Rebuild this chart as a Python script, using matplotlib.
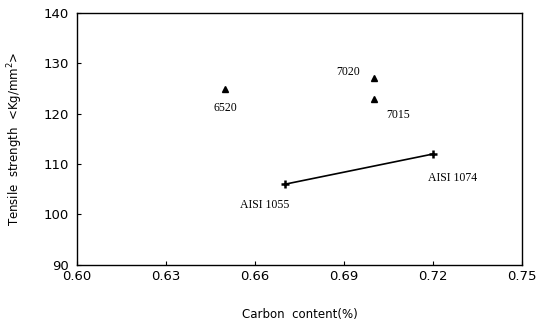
import matplotlib
matplotlib.use('Agg')
import matplotlib.pyplot as plt

# steel grades: triangles (plain) and crosses (AISI, joined by a line)
tri_names = ['6520', '7020', '7015']
tri_carbon = [0.65, 0.70, 0.70]
tri_strength = [125, 127, 123]

aisi_names = ['AISI 1055', 'AISI 1074']
aisi_carbon = [0.67, 0.72]
aisi_strength = [106, 112]

xticks = [0.60, 0.63, 0.66, 0.69, 0.72, 0.75]
yticks = [90, 100, 110, 120, 130, 140]

# label offsets in points (dx, dy, ha)
tri_off = [(0, -14, 'center'), (-10, 5, 'right'), (9, -12, 'left')]
aisi_off = [(-14, -15, 'center'), (14, -17, 'center')]

fig = plt.figure(figsize=(5.39, 3.25), dpi=100)
ax = fig.add_axes([0.143, 0.185, 0.825, 0.775])

ax.plot(tri_carbon, tri_strength, ls='none', marker='^', ms=5, color='black')
ax.plot(aisi_carbon, aisi_strength, color='black', lw=1.2, marker='+',
        ms=6, mew=1.8)

lab_font = dict(family='Liberation Serif', fontsize=8.5)
for n, x, y, (dx, dy, ha) in zip(tri_names, tri_carbon, tri_strength, tri_off):
    ax.annotate(n, (x, y), xytext=(dx, dy), textcoords='offset points',
                ha=ha, va='center', **lab_font)
for n, x, y, (dx, dy, ha) in zip(aisi_names, aisi_carbon, aisi_strength, aisi_off):
    ax.annotate(n, (x, y), xytext=(dx, dy), textcoords='offset points',
                ha=ha, va='center', **lab_font)

ax.set_xlim(0.60, 0.75)
ax.set_ylim(90, 140)
ax.set_xticks(xticks)
ax.set_xticklabels([f'{v:.2f}' for v in xticks])
ax.set_yticks(yticks)
ax.tick_params(direction='in', length=3, width=0.8, labelsize=9.5)
ax.tick_params(axis='x', pad=4)
ax.tick_params(axis='y', pad=6)
for s in ax.spines.values():
    s.set_linewidth(1.0)

ax.set_xlabel('Carbon  content(%)', fontsize=8.5, labelpad=18)
ax.set_ylabel('Tensile  strength  <Kg/mm$^2$>', fontsize=8.5, labelpad=13)

fig.savefig('out.png', dpi=100)
